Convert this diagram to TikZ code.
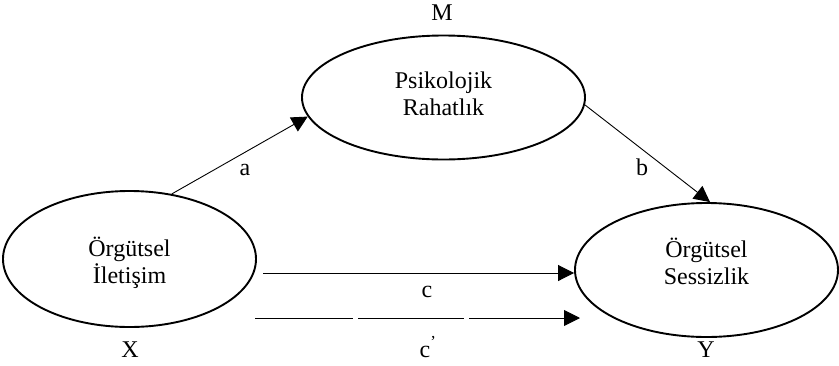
\documentclass[tikz,border=0pt]{standalone}
\usepackage{fontspec}
\setmainfont{Liberation Serif}
\usetikzlibrary{shapes.geometric,arrows.meta,calc}
\begin{document}
\begin{tikzpicture}[x=1pt,y=-1pt,
  oval/.style={draw,ellipse,line width=1.9pt,inner sep=0pt},
  txt/.style={font=\fontsize{24}{27}\selectfont,inner sep=0pt,align=center,anchor=base},
  lbl/.style={font=\fontsize{24}{27}\selectfont,inner sep=0pt,anchor=base},
  arr/.style={line width=0.9pt,-{Triangle[length=16pt,width=16pt]}}]
\useasboundingbox (0,0) rectangle (839,365);
% ellipses
\node[oval,minimum width=253pt,minimum height=136pt] (X) at (129.5,259) {};
\node[oval,minimum width=283pt,minimum height=124pt] (M) at (443.5,97.5) {};
\node[oval,minimum width=263pt,minimum height=134pt] (Y) at (706.5,270) {};
% texts (anchor at baseline of the last line)
\node[txt] (Xt) at (129.5,283) {Örgütsel\\İletişim};
\node[txt] (Mt) at (443.5,115) {Psikolojik\\Rahatlık};
\node[txt] (Yt) at (706.5,284) {Örgütsel\\Sessizlik};
% letters
\node[lbl] (Ml) at (442,20) {M};
\node[lbl] (Xl) at (130,357) {X};
\node[lbl] (Yl) at (706,357) {Y};
% connectors
\coordinate (cs) at (263,273);
\coordinate (cps) at (255,318);
\coordinate (cpe) at (580,318);
\draw[arr] (X.57) -- (M.188);
\draw[arr] (M.-3) -- (Y.87);
\draw[arr] (cs) -- (cs -| Y.west);
\draw[arr,dash pattern=on 98pt off 5pt on 106pt off 5pt on 200pt off 0pt] (cps) -- (cpe);
% path labels
\node[lbl] (la) at (245,175) {a};
\node[lbl] (lb) at (642,175) {b};
\node[lbl] (lc) at (427,297) {c};
\node[lbl] (lcp) at (428,357) {c\textsuperscript{’}};
\end{tikzpicture}
\end{document}
